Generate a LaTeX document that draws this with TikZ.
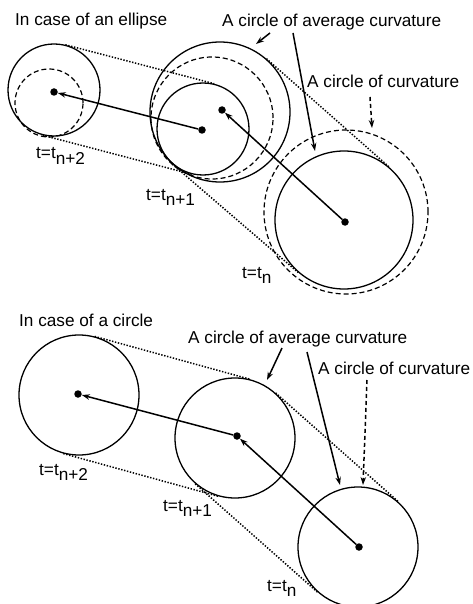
\documentclass[tikz,border=0pt]{standalone}
\usepackage{fontspec}
\setmainfont{Liberation Sans}
\usetikzlibrary{arrows.meta,positioning,calc}

\newcommand{\tsub}[1]{t=t\raisebox{-0.33em}{#1}}

\begin{document}
\begin{tikzpicture}[x=1pt,y=-1pt,
  ring/.style={draw,circle,line width=1.3pt,inner sep=0pt,minimum size=2*#1},
  dring/.style={ring=#1,dash pattern=on 5pt off 3pt,line width=1.2pt},
  dot/.style={circle,fill,inner sep=0pt,minimum size=7.5pt},
  tang/.style={line width=1.5pt,dash pattern=on 1.4pt off 1.6pt},
  arr/.style={line width=1.5pt,-{Stealth[length=8pt,width=5.5pt]}},
  darr/.style={arr,dash pattern=on 4pt off 3pt},
  lab/.style={inner sep=0pt,anchor=base west,font=\fontsize{17.2}{20}\selectfont}]
\clip (0,0) rectangle (472,604);

% --- ellipse case ---
\node[lab] (title1) at (15,26) {In case of an ellipse};
\node[ring=46] (L1) at (54,90) {};
\node[dring=34] (L1d) at (49,103) {};
\node[ring=70] (M1b) at (220,112) {};
\node[dring=61] (M1d) at (212,118) {};
\node[ring=46] (M1s) at (203,129) {};
\node[ring=69] (R1) at (344,220) {};
\node[dring=82] (R1d) at (346,212) {};

\draw[tang] (L1.76) -- (M1s.76);
\draw[tang] (L1.-104) -- (M1s.-104);
\draw[tang] (M1b.49) -- (R1.49);
\draw[tang] (M1s.-131) -- (R1.-131);

\node[dot] (d1) at (54,92) {};
\node[dot] (d2) at (202,130) {};
\node[dot] (d3) at (222,110) {};
\node[dot] (d4) at (345,222) {};
\draw[arr] (d2) -- (d1);
\draw[arr] (d4) -- (d3);

\node[lab] (avg1) at (222,27) {A circle of average curvature};
\node[lab] (cur1) at (307,88) {A circle of curvature};
\coordinate (a1s) at (270,33); \coordinate (a1e) at (256,44);
\coordinate (a2s) at (293,33); \coordinate (a2e) at (315,151);
\coordinate (a3s) at (370,97); \coordinate (a3e) at (372,128);
\draw[arr] (a1s) -- (a1e);
\draw[arr] (a2s) -- (a2e);
\draw[darr] (a3s) -- (a3e);

\node[lab] (t12) at (36,159) {\tsub{n+2}};
\node[lab] (t11) at (146,200) {\tsub{n+1}};
\node[lab] (t10) at (242,278) {\tsub{n}};

% --- circle case ---
\node[lab] (title2) at (19,326) {In case of a circle};
\node[ring=60] (L2) at (79,395) {};
\node[ring=60] (M2) at (235,438) {};
\node[ring=60] (R2) at (358,547) {};

\draw[tang] (L2.75) -- (M2.75);
\draw[tang] (L2.-105) -- (M2.-105);
\draw[tang] (M2.48.5) -- (R2.48.5);
\draw[tang] (M2.-131.5) -- (R2.-131.5);

\node[dot] (e1) at (78,394) {};
\node[dot] (e2) at (237,436) {};
\node[dot] (e3) at (359,547) {};
\draw[arr] (e2) -- (e1);
\draw[arr] (e3) -- (e2);

\node[lab] (avg2) at (188,343) {A circle of average curvature};
\node[lab] (cur2) at (318,374) {A circle of curvature};
\coordinate (b1s) at (282,348); \coordinate (b1e) at (267,380);
\coordinate (b2s) at (307,352); \coordinate (b2e) at (340,485);
\coordinate (b3s) at (367,380); \coordinate (b3e) at (363,485);
\draw[arr] (b1s) -- (b1e);
\draw[arr] (b2s) -- (b2e);
\draw[darr] (b3s) -- (b3e);

\node[lab] (t22) at (39,475) {\tsub{n+2}};
\node[lab] (t21) at (163,511) {\tsub{n+1}};
\node[lab] (t20) at (267,591) {\tsub{n}};
\end{tikzpicture}
\end{document}
